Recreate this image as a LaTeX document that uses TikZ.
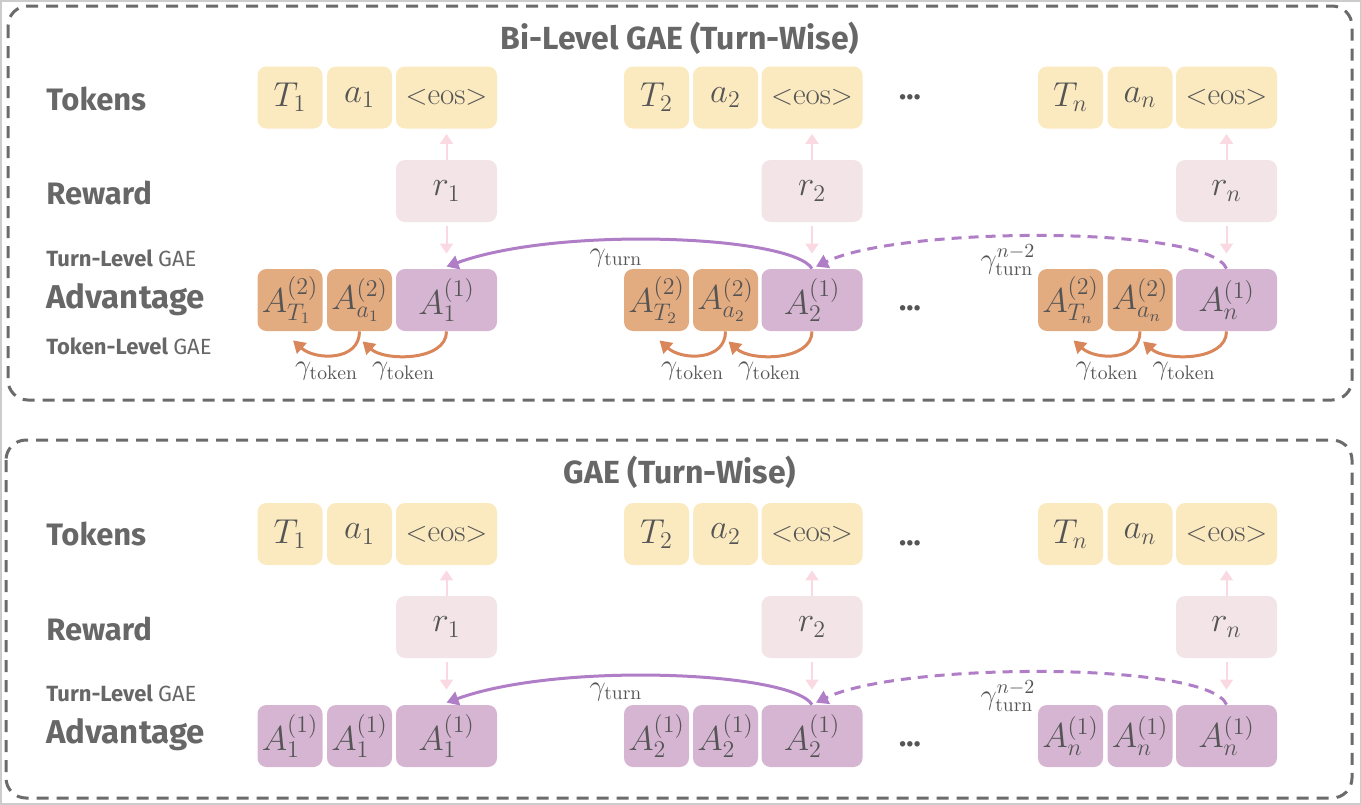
\documentclass[tikz,border=0pt]{standalone}
\usepackage{fontspec}
\newfontfamily\labfont{Fira Sans}
\usetikzlibrary{arrows.meta,calc}
\definecolor{tokc}{HTML}{FBEAC0}
\definecolor{rewc}{HTML}{F2E4E7}
\definecolor{orc}{HTML}{E3AB80}
\definecolor{puc}{HTML}{D6B5D3}
\definecolor{txt}{HTML}{555555}
\definecolor{labc}{HTML}{676767}
\definecolor{pinka}{HTML}{FAD9E3}
\definecolor{purpa}{HTML}{B07DC7}
\definecolor{ora}{HTML}{D8865A}
\definecolor{framec}{HTML}{6B6B6B}
\begin{document}
\begin{tikzpicture}[x=0.5pt,y=-0.5pt,
  box/.style={rounded corners=4.5pt, minimum height=31pt, inner sep=0pt, text=txt, font=\fontsize{17}{20}\selectfont},
  sm/.style={box, minimum width=32.5pt},
  lg/.style={box, minimum width=50.5pt},
  eosb/.style={lg, font=\fontsize{15.5}{18}\selectfont},
  panel/.style={draw=framec, line width=1.5pt, dash pattern=on 6pt off 4pt, rounded corners=10pt},
  title/.style={text=labc, font=\labfont\bfseries\fontsize{16}{19}\selectfont},
  lab/.style={anchor=west, text=labc, inner sep=0pt, font=\labfont\bfseries\fontsize{15.5}{18}\selectfont},
  sublab/.style={anchor=west, text=labc, inner sep=0pt, font=\labfont\fontsize{11}{13}\selectfont},
  dotsn/.style={text=txt, font=\labfont\bfseries\fontsize{15}{18}\selectfont},
  pinkarr/.style={draw=pinka, line width=1pt, -{Triangle[width=6.5pt,length=5pt]}},
  purarr/.style={draw=purpa, line width=1.5pt, -{Triangle[width=7pt,length=6pt]}},
  orarr/.style={draw=ora, line width=1.5pt, -{Triangle[width=7pt,length=6pt]}},
  glab/.style={text=txt, inner sep=0pt, font=\fontsize{14}{16}\selectfont}
]
\useasboundingbox (0,0) rectangle (1361,804);
\draw[black!20, line width=1pt] (0.5,0.5) rectangle (1360.5,803.5);

% ---------------- top panel ----------------
\draw[panel] (8,6) rectangle (1352,400);
\node[title] (ttl1) at (680,38) {Bi-Level GAE (Turn-Wise)};
\node[lab] (lt1) at (46,99) {Tokens};
\node[lab] (lr1) at (46,193) {Reward};
\node[sublab] (ltl1) at (46,258) {\bfseries Turn-Level\ \mdseries GAE};
\node[lab, font=\labfont\bfseries\fontsize{16.5}{19}\selectfont] (la1) at (46,300) {Advantage};
\node[sublab] (lkl1) at (46,346) {\bfseries Token-Level\ \mdseries GAE};

\foreach \g/\xa/\xb/\xc in {1/290/359.5/446.5, 2/656.5/725.5/812, n/1070.5/1140/1226.5} {
  \node[sm,fill=tokc] (uT\g) at (\xa,97.5) {$T_{\g}$};
  \node[sm,fill=tokc] (ua\g) at (\xb,97.5) {$a_{\g}$};
  \node[eosb,fill=tokc] (ue\g) at (\xc,97.5) {$\mathord{<}\mathrm{eos}\mathord{>}$};
  \node[lg,fill=rewc] (ur\g) at (\xc,191) {$r_{\g}$};
  \node[sm,fill=orc] (uAT\g) at (\xa,300) {$A^{(2)}_{T_{\g}}$};
  \node[sm,fill=orc] (uAa\g) at (\xb,300) {$A^{(2)}_{a_{\g}}$};
  \node[lg,fill=puc] (uAe\g) at (\xc,300) {$A^{(1)}_{\g}$};
  \draw[pinkarr] (ur\g.north) -- ($(ue\g.south)+(0,5)$);
  \draw[pinkarr] ($(ur\g.south)+(0,4)$) -- ($(uAe\g.north)+(0,-15)$);
  \draw[orarr] (uAe\g.south) .. controls +(0,30) and +(22,20) .. ($(uAa\g.south)+(3,10)$);
  \draw[orarr] (uAa\g.south) .. controls +(0,30) and +(22,20) .. ($(uAT\g.south)+(3,9)$);
  \node[glab] (gk1\g) at ($(uAa\g.south)+(-33,40)$) {$\gamma_{\mathrm{token}}$};
  \node[glab] (gk2\g) at ($(uAa\g.south)+(44,40)$) {$\gamma_{\mathrm{token}}$};
}
\node[dotsn] (ud1) at (910,97) {...};
\node[dotsn] (ud2) at (910,308) {...};

\draw[purarr] (uAe2.north) .. controls +(-20,-33) and +(113,-41) .. ($(uAe1.north)+(0,-2)$);
\draw[purarr, dash pattern=on 5pt off 3.5pt] (uAen.north) .. controls +(-17,-43) and +(85,-41) .. ($(uAe2.north)+(4,-2)$);
\node[glab] (gt1) at (616,258) {$\gamma_{\mathrm{turn}}$};
\node[glab] (gtn1) at (1008,260) {$\gamma^{n-2}_{\mathrm{turn}}$};

% ---------------- bottom panel ----------------
\draw[panel] (6,440) rectangle (1352,798);
\node[title] (ttl2) at (680,472) {GAE (Turn-Wise)};
\node[lab] (lt2) at (46,534) {Tokens};
\node[lab] (lr2) at (46,629) {Reward};
\node[sublab] (ltl2) at (46,693) {\bfseries Turn-Level\ \mdseries GAE};
\node[lab, font=\labfont\bfseries\fontsize{16.5}{19}\selectfont] (la2) at (46,735) {Advantage};

\foreach \g/\xa/\xb/\xc in {1/290/359.5/446.5, 2/656.5/725.5/812, n/1070.5/1140/1226.5} {
  \node[sm,fill=tokc] (lT\g) at (\xa,534) {$T_{\g}$};
  \node[sm,fill=tokc] (la\g) at (\xb,534) {$a_{\g}$};
  \node[eosb,fill=tokc] (le\g) at (\xc,534) {$\mathord{<}\mathrm{eos}\mathord{>}$};
  \node[lg,fill=rewc] (lr\g) at (\xc,627) {$r_{\g}$};
  \node[sm,fill=puc] (lAT\g) at (\xa,736) {$A^{(1)}_{\g}$};
  \node[sm,fill=puc] (lAa\g) at (\xb,736) {$A^{(1)}_{\g}$};
  \node[lg,fill=puc] (lAe\g) at (\xc,736) {$A^{(1)}_{\g}$};
  \draw[pinkarr] (lr\g.north) -- ($(le\g.south)+(0,5)$);
  \draw[pinkarr] ($(lr\g.south)+(0,4)$) -- ($(lAe\g.north)+(0,-15)$);
}
\node[dotsn] (ld1) at (910,543) {...};
\node[dotsn] (ld2) at (910,744) {...};

\draw[purarr] (lAe2.north) .. controls +(-20,-33) and +(113,-41) .. ($(lAe1.north)+(0,-2)$);
\draw[purarr, dash pattern=on 5pt off 3.5pt] (lAen.north) .. controls +(-17,-43) and +(85,-41) .. ($(lAe2.north)+(4,-2)$);
\node[glab] (gt2) at (616,692) {$\gamma_{\mathrm{turn}}$};
\node[glab] (gtn2) at (1008,696) {$\gamma^{n-2}_{\mathrm{turn}}$};
\end{tikzpicture}
\end{document}
